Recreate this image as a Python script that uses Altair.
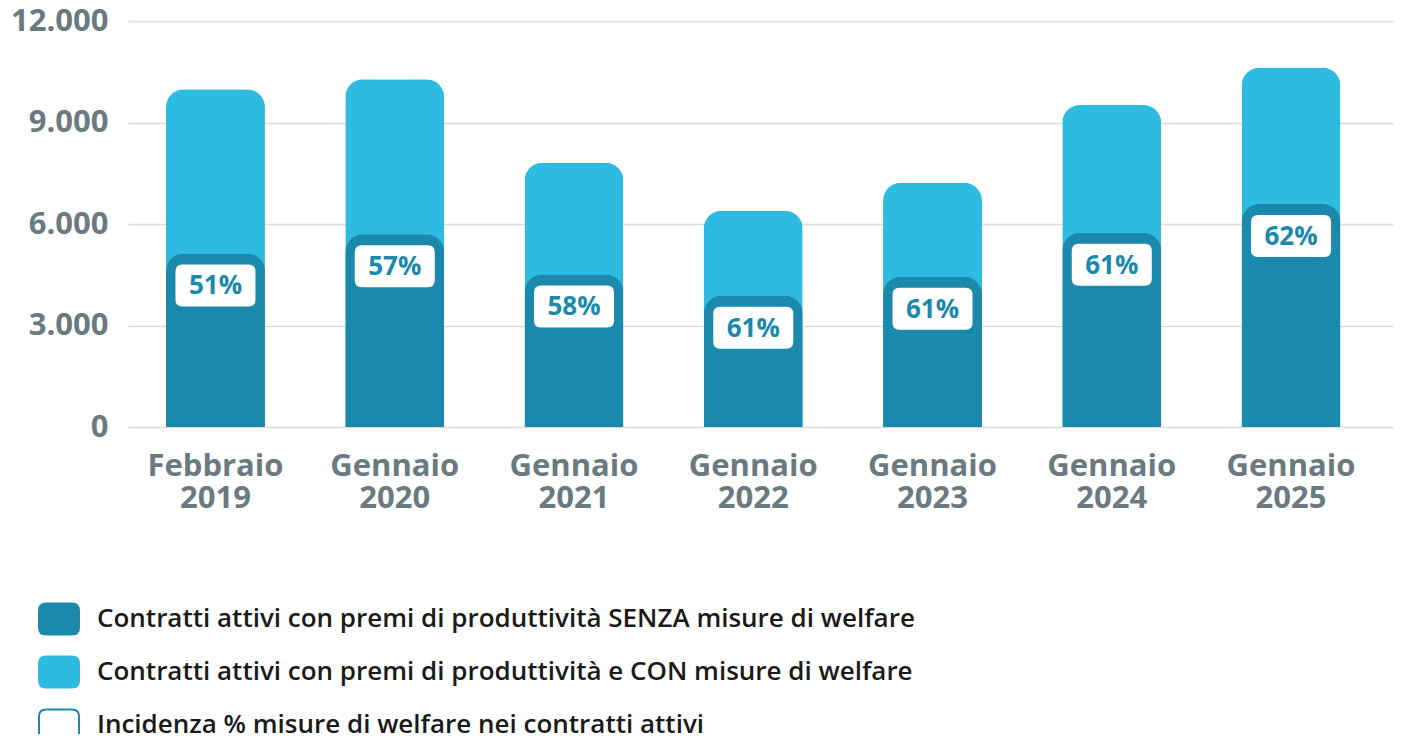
import altair as alt
import pandas as pd

categorie = ["Febbraio 2019", "Gennaio 2020", "Gennaio 2021", "Gennaio 2022",
             "Gennaio 2023", "Gennaio 2024", "Gennaio 2025"]
totale = [9980, 10280, 7810, 6390, 7220, 9520, 10620]
senza_welfare = [5130, 5700, 4510, 3880, 4440, 5740, 6590]
incidenza = [51, 57, 58, 61, 61, 61, 62]

S1 = "Contratti attivi con premi di produttività SENZA misure di welfare"
S2 = "Contratti attivi con premi di produttività e CON misure di welfare"
S3 = "Incidenza % misure di welfare nei contratti attivi"

DARK = "#1b89ab"
LIGHT = "#2dbbe1"
GRAY = "#6b7a80"
FONT = "Open Sans"

df_tot = pd.DataFrame({"cat": categorie, "v": totale, "serie": S2})
df_sen = pd.DataFrame({"cat": categorie, "v": senza_welfare, "serie": S1})
df_lab = pd.DataFrame({"cat": categorie, "v": senza_welfare, "serie": S3,
                       "txt": [f"{p}%" for p in incidenza]})

fill_scale = alt.Scale(domain=[S1, S2, S3], range=[DARK, LIGHT, "#ffffff"])
stroke_scale = alt.Scale(domain=[S1, S2, S3], range=[DARK, LIGHT, DARK])

legend_path = ("M -0.65,-0.775 L 0.65,-0.775 Q 1,-0.775 1,-0.425 L 1,0.425 "
               "Q 1,0.775 0.65,0.775 L -0.65,0.775 Q -1,0.775 -1,0.425 "
               "L -1,-0.425 Q -1,-0.775 -0.65,-0.775 Z")
box_path = ("M -0.825,-0.525 L 0.825,-0.525 Q 1,-0.525 1,-0.35 L 1,0.35 "
            "Q 1,0.525 0.825,0.525 L -0.825,0.525 Q -1,0.525 -1,0.35 "
            "L -1,-0.35 Q -1,-0.525 -0.825,-0.525 Z")

legend = alt.Legend(
    title=None, orient="none", legendX=-90, legendY=577, direction="vertical",
    symbolType=legend_path, symbolSize=1600, symbolStrokeWidth=2,
    labelFont=FONT, labelFontSize=26, labelFontWeight=600, labelColor="#1a1a1a",
    labelOffset=17, labelLimit=0, rowPadding=12,
)

x = alt.X("cat:N", sort=categorie, title=None,
          scale=alt.Scale(paddingInner=0.448, paddingOuter=0.2524, align=0.42),
          axis=alt.Axis(labelExpr="split(datum.label, ' ')", labelAngle=0,
                        labelFont=FONT, labelFontSize=31, labelFontWeight="bold",
                        labelColor=GRAY, labelLineHeight=32, labelPadding=24,
                        ticks=False, domain=False, grid=False))
y = alt.Y("v:Q", title=None,
          scale=alt.Scale(domain=[0, 12000]),
          axis=alt.Axis(values=[0, 3000, 6000, 9000, 12000],
                        labelExpr="replace(format(datum.value, ','), ',', '.')",
                        labelFont=FONT, labelFontSize=31, labelFontWeight="bold",
                        labelColor=GRAY, labelPadding=20, ticks=False, domain=False,
                        gridColor="#dcdcdc", gridWidth=1.5))

fill = alt.Fill("serie:N", scale=fill_scale, legend=legend)
stroke = alt.Stroke("serie:N", scale=stroke_scale, legend=legend)

bars_tot = alt.Chart(df_tot).mark_bar(
    cornerRadiusTopLeft=18, cornerRadiusTopRight=18, strokeWidth=0
).encode(x=x, y=y, fill=fill, stroke=stroke)

bars_sen = alt.Chart(df_sen).mark_bar(
    cornerRadiusTopLeft=18, cornerRadiusTopRight=18, strokeWidth=0
).encode(x=x, y=y, fill=fill, stroke=stroke)

boxes = alt.Chart(df_lab).mark_point(
    shape=box_path, size=6400, filled=True, opacity=1, strokeWidth=0, yOffset=32
).encode(x=x, y=y, fill=fill, stroke=stroke)

texts = alt.Chart(df_lab).mark_text(
    font=FONT, fontSize=26, fontWeight="bold", color=DARK, baseline="middle",
    align="center", yOffset=33
).encode(x=x, y=y, text="txt:N")

chart = alt.layer(bars_tot, bars_sen, boxes, texts).properties(
    width=1265, height=406,
    autosize=alt.AutoSizeParams(type="none"),
    padding={"left": 120, "top": 13, "right": 2, "bottom": 307},
).configure_view(stroke=None)

chart.save("out.html", embed_options={"renderer": "svg", "actions": False})
